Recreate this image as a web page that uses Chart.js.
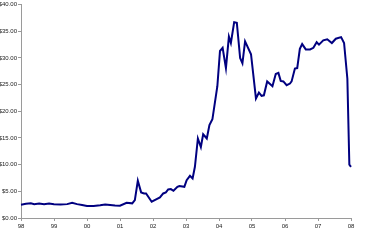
<!DOCTYPE html>
<html>
<head>
<meta charset="utf-8">
<script src="https://cdn.jsdelivr.net/npm/chart.js@4/dist/chart.umd.min.js"></script>
<style>
  html, body { margin: 0; padding: 0; background: #fff; }
  #wrap { width: 367px; height: 242px; position: relative; }
</style>
</head>
<body>
<div id="wrap"><canvas id="c" width="367" height="242"></canvas></div>
<script>
// Time (fractional year) and price
const years = [
  1998.00, 1998.15, 1998.30, 1998.40, 1998.55, 1998.70, 1998.85, 1999.00, 1999.20, 1999.40,
  1999.55, 1999.70, 1999.85, 2000.00, 2000.20, 2000.40, 2000.55, 2000.70, 2000.85, 2001.00,
  2001.20, 2001.37, 2001.45, 2001.54, 2001.64, 2001.73, 2001.79, 2001.96, 2002.11, 2002.21,
  2002.31, 2002.39, 2002.46, 2002.54, 2002.62, 2002.74, 2002.80, 2002.95, 2003.02, 2003.12,
  2003.20, 2003.27, 2003.36, 2003.45, 2003.52, 2003.63, 2003.71, 2003.80, 2003.95, 2004.03,
  2004.11, 2004.21, 2004.30, 2004.36, 2004.46, 2004.54, 2004.64, 2004.71, 2004.79, 2004.97,
  2005.12, 2005.21, 2005.29, 2005.36, 2005.46, 2005.62, 2005.72, 2005.80, 2005.87, 2005.95,
  2006.05, 2006.15, 2006.20, 2006.30, 2006.37, 2006.45, 2006.52, 2006.63, 2006.76, 2006.86,
  2006.96, 2007.03, 2007.16, 2007.28, 2007.42, 2007.54, 2007.70, 2007.79, 2007.89, 2007.95,
  2008.00
];
const prices = [
  2.50, 2.65, 2.75, 2.60, 2.70, 2.60, 2.70, 2.60, 2.55, 2.60,
  2.85, 2.60, 2.45, 2.25, 2.25, 2.40, 2.55, 2.45, 2.35, 2.30,
  2.86, 2.75, 3.36, 6.98, 4.80, 4.60, 4.60, 3.05, 3.55, 3.87,
  4.60, 4.80, 5.36, 5.42, 5.10, 5.85, 6.00, 5.85, 7.10, 7.90,
  7.40, 9.60, 14.90, 13.30, 15.70, 14.90, 17.40, 18.50, 24.70, 31.30,
  31.90, 28.10, 34.00, 32.80, 36.70, 36.60, 30.00, 29.00, 33.10, 30.70,
  22.40, 23.50, 22.90, 23.00, 25.60, 24.70, 27.00, 27.20, 25.70, 25.60,
  24.90, 25.20, 25.60, 28.00, 28.10, 31.70, 32.60, 31.60, 31.60, 31.90,
  32.95, 32.50, 33.30, 33.50, 32.80, 33.60, 33.90, 32.80, 26.10, 10.00,
  9.60
];
const xTickYears = [1998, 1999, 2000, 2001, 2002, 2003, 2004, 2005, 2006, 2007, 2008];
const xTickLabels = ['98', '99', '00', '01', '02', '03', '04', '05', '06', '07', '08'];
const yTickValues = [0, 5, 10, 15, 20, 25, 30, 35, 40];

const points = years.map((y, i) => ({ x: y, y: prices[i] }));
const axisGray = '#9a9a9a';
const font = { family: 'Liberation Sans, Arial, sans-serif', size: 6 };

new Chart(document.getElementById('c'), {
  type: 'line',
  data: {
    datasets: [{
      data: points,
      borderColor: '#000080',
      borderWidth: 2,
      pointRadius: 0,
      tension: 0,
      fill: false,
      clip: false
    }]
  },
  options: {
    responsive: false,
    animation: false,
    devicePixelRatio: 1,
    layout: { padding: { top: 4, right: 16, left: 0, bottom: 0 } },
    plugins: { legend: { display: false }, tooltip: { enabled: false } },
    scales: {
      x: {
        type: 'linear',
        min: xTickYears[0],
        max: xTickYears[xTickYears.length - 1],
        afterBuildTicks: (scale) => { scale.ticks = xTickYears.map(v => ({ value: v })); },
        ticks: {
          autoSkip: false,
          maxRotation: 0,
          padding: 2,
          color: '#222',
          font: font,
          callback: (v) => xTickLabels[xTickYears.indexOf(v)]
        },
        grid: { display: true, drawOnChartArea: false, drawTicks: true, tickLength: 3, color: axisGray },
        border: { display: true, color: axisGray, width: 1 },
        afterFit: (scale) => { scale.height = 24; }
      },
      y: {
        min: 0,
        max: 40,
        afterBuildTicks: (scale) => { scale.ticks = yTickValues.map(v => ({ value: v })); },
        ticks: {
          padding: 1,
          color: '#222',
          font: font,
          callback: (v) => '$' + Number(v).toFixed(2)
        },
        grid: { display: true, drawOnChartArea: false, drawTicks: true, tickLength: 3, color: axisGray },
        border: { display: true, color: axisGray, width: 1 },
        afterFit: (scale) => { scale.width = 21; }
      }
    }
  }
});
</script>
</body>
</html>
